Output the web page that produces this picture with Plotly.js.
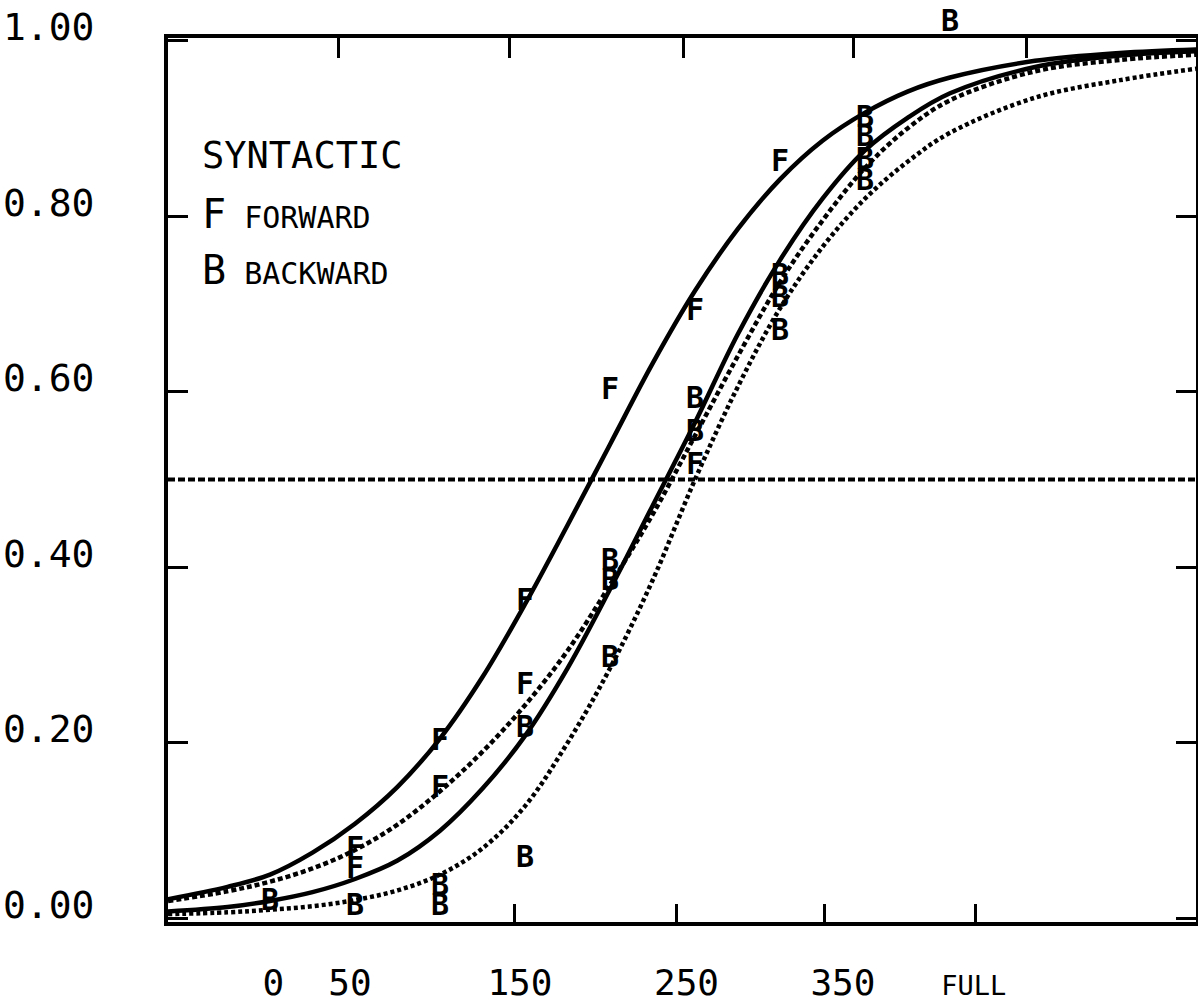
<!DOCTYPE html>
<html><head><meta charset="utf-8">
<script src="https://cdn.plot.ly/plotly-3.0.1.min.js"></script>
<style>html,body{margin:0;padding:0;background:#fff}#chart{width:1198px;height:1006px}</style>
</head><body><div id="chart"></div>
<script>
// x positions (word-count columns, FULL drawn at 400) at which the fitted curves were read
const curveX = [-60,-25,0,25,50,75,100,125,150,175,200,225,250,275,300,325,350,375,400,450,500,545];
const solidForward  = [0.022,0.036,0.05,0.075,0.108,0.15,0.205,0.275,0.358,0.448,0.54,0.632,0.715,0.785,0.842,0.886,0.918,0.942,0.958,0.977,0.986,0.99];
const solidBackward = [0.008,0.013,0.02,0.03,0.045,0.066,0.1,0.148,0.208,0.285,0.375,0.47,0.565,0.665,0.75,0.82,0.875,0.912,0.94,0.97,0.983,0.988];
const dottedForward = [0.02,0.031,0.042,0.057,0.078,0.107,0.145,0.19,0.243,0.305,0.38,0.46,0.55,0.64,0.725,0.795,0.855,0.9,0.932,0.965,0.978,0.984];
const dottedBackward= [0.005,0.007,0.01,0.014,0.021,0.032,0.05,0.08,0.128,0.2,0.285,0.385,0.5,0.605,0.695,0.765,0.82,0.862,0.895,0.935,0.955,0.968];

// observed points, plotted as letters
const forwardX = [50,50,100,100,150,150,200,250,250,300];
const forwardY = [0.078,0.055,0.2,0.147,0.36,0.264,0.6,0.69,0.515,0.86];
const backwardX = [0,50,100,100,150,150,200,200,200,250,250,300,300,300,350,350,350,350,400];
const backwardY = [0.018,0.013,0.035,0.012,0.215,0.067,0.405,0.383,0.295,0.59,0.553,0.73,0.705,0.667,0.91,0.888,0.862,0.838,1.02];

const yTickVals = [0,0.2,0.4,0.6,0.8,1.0];
const yTickText = ['0.00','0.20','0.40','0.60','0.80','1.00'];
const xLabelVals = [2,47,147,245,337,414];
const xLabelText = ['0','50','150','250','350','<span style="font-size:27px">FULL</span>'];
const xTopTicks = [40,141,243,343,445];
const xBottomTicks = [144,239,326,415];
const halfLevel = 0.5;

const FONT = 'DejaVu Sans Mono, monospace';
const xRange = [-60, 544.7];
const yRange = [-0.004, 1.003];

// frame geometry: main y axis occupies the lower part of the plot area,
// a hidden companion axis spans the full area so letters just above 1.00 stay visible
const W = 1198, H = 1006, M = {l:168, r:2, t:10, b:84};
const frameTopPx = 38;
const areaH = H - M.t - M.b;
const yDomTop = (H - M.b - frameTopPx) / areaH;
const yRangeExt = [yRange[0], yRange[0] + (yRange[1] - yRange[0]) / yDomTop];

const letterFont = {family:FONT, size:30, color:'#000', weight:'bold'};

const traces = [
  {x: curveX, y: solidForward, mode:'lines', line:{color:'#000', width:4.5, shape:'spline'}, hoverinfo:'skip'},
  {x: curveX, y: solidBackward, mode:'lines', line:{color:'#000', width:4.5, shape:'spline'}, hoverinfo:'skip'},
  {x: curveX, y: dottedForward, mode:'lines', line:{color:'#000', width:4.5, dash:'5px,3px', shape:'spline'}, hoverinfo:'skip'},
  {x: curveX, y: dottedBackward, mode:'lines', line:{color:'#000', width:4.5, dash:'4px,3px', shape:'spline'}, hoverinfo:'skip'},
  {x: forwardX, y: forwardY, xaxis:'x2', yaxis:'y', mode:'text', text: forwardX.map(()=> 'F'), textposition:'middle center',
   textfont:letterFont, cliponaxis:false, hoverinfo:'skip'},
  {x: backwardX, y: backwardY, xaxis:'x', yaxis:'y2', mode:'text', text: backwardX.map(()=> 'B'), textposition:'middle center',
   textfont:letterFont, cliponaxis:false, hoverinfo:'skip'}
];

const layout = {
  width:W, height:H,
  margin:M,
  paper_bgcolor:'#fff', plot_bgcolor:'rgba(0,0,0,0)',
  showlegend:false,
  font:{family:FONT, color:'#000'},
  xaxis:{range:xRange, anchor:'y', showline:true, linewidth:4, linecolor:'#000', ticks:'',
         tickvals:xLabelVals, ticktext:xLabelText, tickfont:{family:FONT, size:36, color:'#000'}, ticklabelstandoff:26,
         minor:{tickvals:xBottomTicks, ticks:'inside', ticklen:18, tickwidth:3, tickcolor:'#000', showgrid:false},
         showgrid:false, zeroline:false, fixedrange:true},
  xaxis2:{range:xRange, overlaying:'x', anchor:'y', side:'top', showline:true, linewidth:4, linecolor:'#000', ticks:'inside', ticklen:20, tickwidth:3, tickcolor:'#000',
         tickvals:xTopTicks, showticklabels:false, showgrid:false, zeroline:false, fixedrange:true},
  yaxis:{range:yRange, domain:[0, yDomTop], anchor:'x', showline:true, linewidth:4, linecolor:'#000', mirror:'ticks', ticks:'inside', ticklen:20, tickwidth:3, tickcolor:'#000',
         tickvals:yTickVals, ticktext:yTickText, tickfont:{family:FONT, size:38, color:'#000'}, ticklabelstandoff:62, ticklabelshift:-14,
         showgrid:false, zeroline:false, fixedrange:true},
  yaxis2:{range:yRangeExt, domain:[0,1], anchor:'x', visible:false, showgrid:false, zeroline:false, fixedrange:true},
  shapes:[{type:'line', xref:'paper', x0:0, x1:1, yref:'y', y0:halfLevel, y1:halfLevel, line:{color:'#000', width:4, dash:'7px,3px'}}],
  annotations:[
    {xref:'paper', yref:'paper', x:0.031, y:0.84, xanchor:'left', yanchor:'middle', showarrow:false, align:'left',
     text:'SYNTACTIC', font:{family:FONT, size:37, color:'#000'}},
    {xref:'paper', yref:'paper', x:0.031, y:0.776, xanchor:'left', yanchor:'middle', showarrow:false, align:'left',
     text:'F<span style="font-size:30px"> FORWARD</span>', font:{family:FONT, size:40, color:'#000'}},
    {xref:'paper', yref:'paper', x:0.031, y:0.715, xanchor:'left', yanchor:'middle', showarrow:false, align:'left',
     text:'B<span style="font-size:30px"> BACKWARD</span>', font:{family:FONT, size:40, color:'#000'}}
  ]
};

Plotly.newPlot('chart', traces, layout, {staticPlot:true, displayModeBar:false});
</script></body></html>
